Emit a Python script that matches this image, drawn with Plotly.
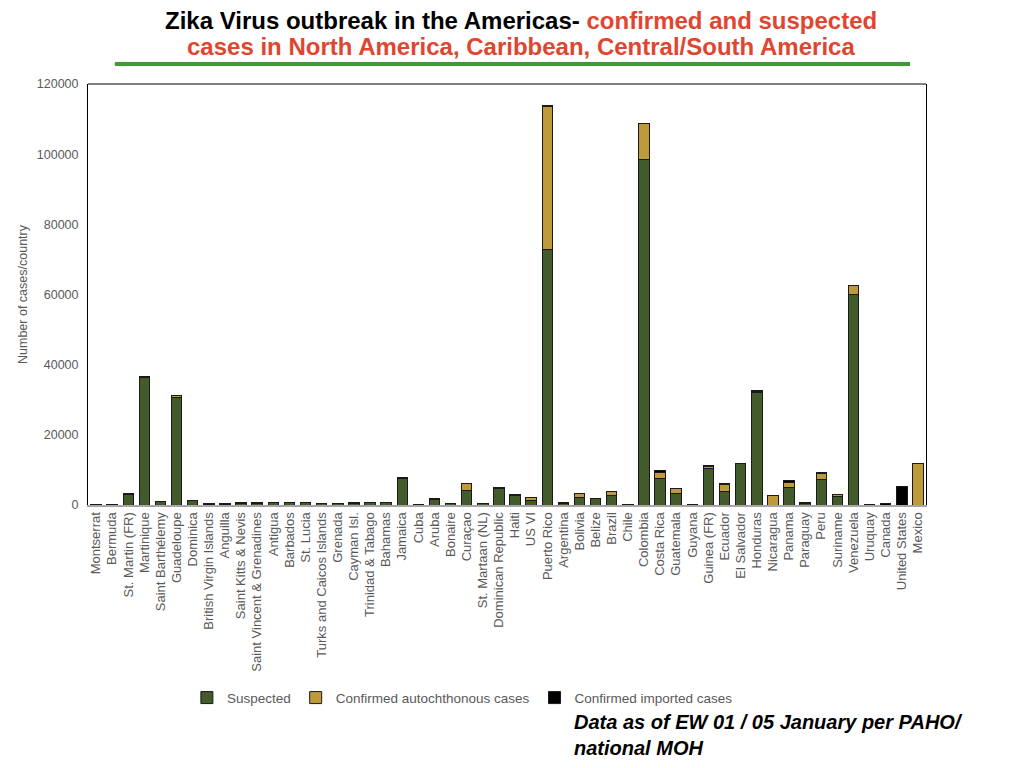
import plotly.graph_objects as go

# %%
countries = [
    "Montserrat", "Bermuda", "St. Martin (FR)", "Martinique", "Saint Barthélemy",
    "Guadeloupe", "Dominica", "British Virgin Islands", "Anguilla", "Saint Kitts & Nevis",
    "Saint Vincent & Grenadines", "Antigua", "Barbados", "St. Lucia",
    "Turks and Caicos Islands", "Grenada", "Cayman Isl.", "Trinidad & Tabago",
    "Bahamas", "Jamaica", "Cuba", "Aruba", "Bonaire", "Curaçao", "St. Martaan (NL)",
    "Dominican Republic", "Haiti", "US VI", "Puerto Rico", "Argentina", "Bolivia",
    "Belize", "Brazil", "Chile", "Colombia", "Costa Rica", "Guatemala", "Guyana",
    "Guinea (FR)", "Ecuador", "El Salvador", "Honduras", "Nicaragua", "Panama",
    "Paraguay", "Peru", "Suriname", "Venezuela", "Uruquay", "Canada",
    "United States", "Mexico",
]

suspected = [
    150, 0, 3050, 36300, 900,
    30700, 1150, 200, 200, 500,
    450, 600, 600, 600,
    350, 350, 450, 600,
    600, 7500, 150, 1500, 350, 4100, 350,
    4800, 2750, 1150, 72900, 450, 2200,
    1800, 2850, 0, 98600, 7500, 3350, 150,
    10300, 3800, 11700, 32000, 0, 5100,
    550, 7300, 2500, 59900, 100, 0,
    0, 0,
]

confirmed_auto = [
    0, 0, 150, 400, 150,
    500, 150, 50, 50, 200,
    100, 150, 150, 150,
    100, 100, 100, 150,
    150, 250, 50, 400, 100, 2100, 100,
    200, 100, 900, 40800, 0, 1100,
    100, 900, 0, 10100, 1900, 1300, 50,
    600, 2100, 150, 450, 2750, 1300,
    150, 1700, 550, 2700, 50, 0,
    0, 11800,
]

confirmed_imported = [
    50, 150, 50, 50, 50,
    50, 50, 50, 50, 50,
    50, 50, 50, 50,
    50, 50, 50, 50,
    50, 50, 50, 50, 50, 50, 50,
    50, 50, 100, 200, 300, 100,
    50, 100, 200, 50, 300, 50, 50,
    250, 350, 50, 50, 50, 450,
    100, 350, 50, 50, 50, 450,
    5400, 50,
]

series_names = ["Suspected", "Confirmed autochthonous cases", "Confirmed imported cases"]
series_colors = ["#435a2b", "#bf9a3a", "#000000"]

# %%
fig = go.Figure()

for name, values, color in zip(series_names, [suspected, confirmed_auto, confirmed_imported], series_colors):
    fig.add_trace(
        go.Bar(
            x=countries,
            y=values,
            name=name,
            marker_color=color,
            marker_line_color="#1a1a1a",
            marker_line_width=1,
        )
    )

title_font = "Liberation Sans Narrow, Arial Narrow, Liberation Sans, Arial"

fig.add_annotation(
    text="<b>Zika Virus outbreak in the Americas- <span style='color:#e0452f'>confirmed and suspected</span></b>",
    xref="paper", yref="paper", x=0.517, y=1.151, xanchor="center", yanchor="middle",
    showarrow=False, font=dict(family=title_font, size=24, color="black"),
)
fig.add_annotation(
    text="<b>cases in North America, Caribbean, Central/South America</b>",
    xref="paper", yref="paper", x=0.517, y=1.09, xanchor="center", yanchor="middle",
    showarrow=False, font=dict(family=title_font, size=24, color="#e0452f"),
)
fig.add_annotation(
    text="<b><i>Data as of EW 01 / 05 January per PAHO/<br>national MOH</i></b>",
    xref="paper", yref="paper", x=0.578, y=-0.484, xanchor="left", yanchor="top",
    align="left", showarrow=False,
    font=dict(family=title_font, size=20, color="black"),
)

# green rule under the title and the black top frame
fig.add_shape(type="line", xref="paper", yref="paper", x0=0.032, x1=0.981, y0=1.0475, y1=1.0475,
              line=dict(color="#3f9a36", width=4))
fig.add_shape(type="line", xref="paper", yref="paper", x0=0, x1=1, y0=1, y1=1,
              line=dict(color="black", width=1))

fig.update_layout(
    width=1024,
    height=768,
    barmode="stack",
    bargap=0.35,
    plot_bgcolor="white",
    paper_bgcolor="white",
    margin=dict(l=80, r=106, t=76, b=271),
    font=dict(family="Liberation Sans, Arial", color="#595959"),
    legend=dict(
        orientation="h",
        traceorder="normal",
        x=0.118, y=-0.458, xanchor="left", yanchor="middle",
        font=dict(size=13.5, color="#595959"),
        itemwidth=30,
    ),
    xaxis=dict(
        tickangle=-90,
        tickfont=dict(size=13, color="#595959"),
        showline=True, linecolor="#a6a6a6", linewidth=2,
        showgrid=False, ticks="",
    ),
    yaxis=dict(
        range=[0, 120000],
        dtick=20000,
        tickformat="d",
        tickfont=dict(size=12.5, color="#595959"),
        ticklabelstandoff=6,
        title=dict(text="Number of cases/country", font=dict(size=12.5, color="#595959"), standoff=6),
        showline=True, linecolor="black", linewidth=1, mirror=True,
        showgrid=False, zeroline=False, ticks="",
    ),
)

fig.write_html("out.html")
